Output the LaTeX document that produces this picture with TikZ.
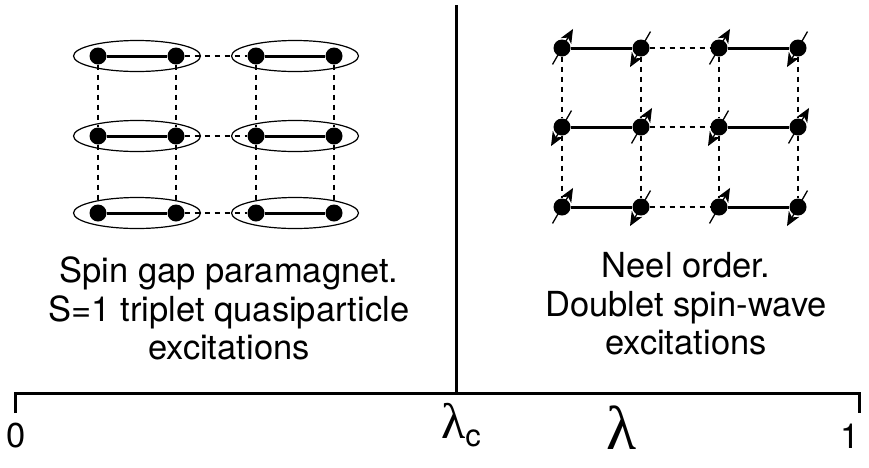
\documentclass[tikz,border=0pt]{standalone}
\usepackage{fontspec}
\setmainfont{TeX Gyre Heros}
\newfontfamily\greekfont{Liberation Serif}
\usetikzlibrary{arrows.meta}

\begin{document}
\begin{tikzpicture}[x=1pt, y=-1pt,
  every node/.style={font=\fontsize{34.5}{38.5}\selectfont},
  site/.style={circle, fill=black, minimum size=17pt, inner sep=0pt},
  bond/.style={line width=3pt},
  weak/.style={line width=1.2pt, dash pattern=on 5.5pt off 4.5pt},
  dimer/.style={line width=1.2pt},
  spin/.style={line width=1.3pt, -{Stealth[length=14pt, width=12pt, inset=4pt]}},
  axis/.style={line width=3pt}]
\useasboundingbox (0,0) rectangle (869,467);
% dimer lattice (left)
\foreach \x [count=\i] in {98,176,256,334}
  \foreach \y [count=\j] in {56,136,213}
    \node[site] (d-\i-\j) at (\x,\y) {};
\foreach \y [count=\j] in {56,136,213} {
  \draw[dimer] (137,\y) ellipse (63.5 and 15.5);
  \draw[dimer] (295,\y) ellipse (63.5 and 15.5);
  \draw[bond] (d-1-\j) -- (d-2-\j);
  \draw[bond] (d-3-\j) -- (d-4-\j);
  \draw[weak] (d-2-\j) -- (d-3-\j);
}
\foreach \i in {1,...,4} \draw[weak] (d-\i-1) -- (d-\i-2) -- (d-\i-3);
% neel lattice (right)
\foreach \x [count=\i] in {562,641,719,798}
  \foreach \y [count=\j] in {48,127,207}
    \node[site] (n-\i-\j) at (\x,\y) {};
\foreach \j in {1,2,3} {
  \draw[bond] (n-1-\j) -- (n-2-\j);
  \draw[bond] (n-3-\j) -- (n-4-\j);
  \draw[weak] (n-2-\j) -- (n-3-\j);
}
\foreach \i in {1,...,4} \draw[weak] (n-\i-1) -- (n-\i-2) -- (n-\i-3);
% spins, up and down in turn
\foreach \i in {1,...,4}
  \foreach \j in {1,2,3} {
    \pgfmathsetmacro\ang{60+180*mod(\i+\j,2)}
    \draw[spin] ([shift={(\ang+180:19pt)}]n-\i-\j.center) -- ([shift={(\ang:22pt)}]n-\i-\j.center);
  }
% texts
\node[align=center] (para) at (229,308.5) {Spin gap paramagnet.\\S=1 triplet quasiparticle\\excitations};
\node[align=center] (neel) at (686,304) {Neel order.\\Doublet spin-wave\\excitations};
% phase axis
\coordinate (top) at (456,5);
\coordinate (crit) at (456,393);
\coordinate (a0) at (15,413);
\coordinate (a0u) at (15,393);
\coordinate (a1u) at (859,393);
\coordinate (a1) at (859,413);
\draw[axis] (top) -- (crit);
\draw[axis] (a0) -- (a0u) -- (a1u) -- (a1);
\node (zero) at (16,436) {0};
\node (one) at (850,436) {1};
\node[anchor=base west, inner sep=0pt] (lamc) at (441,438) {{\greekfont\fontsize{50}{50}\selectfont λ}\raisebox{-8pt}{\fontsize{31}{31}\selectfont c}};
\node[inner sep=0pt] (lam) at (622,428) {\greekfont\fontsize{62}{62}\selectfont λ};
\end{tikzpicture}
\end{document}
